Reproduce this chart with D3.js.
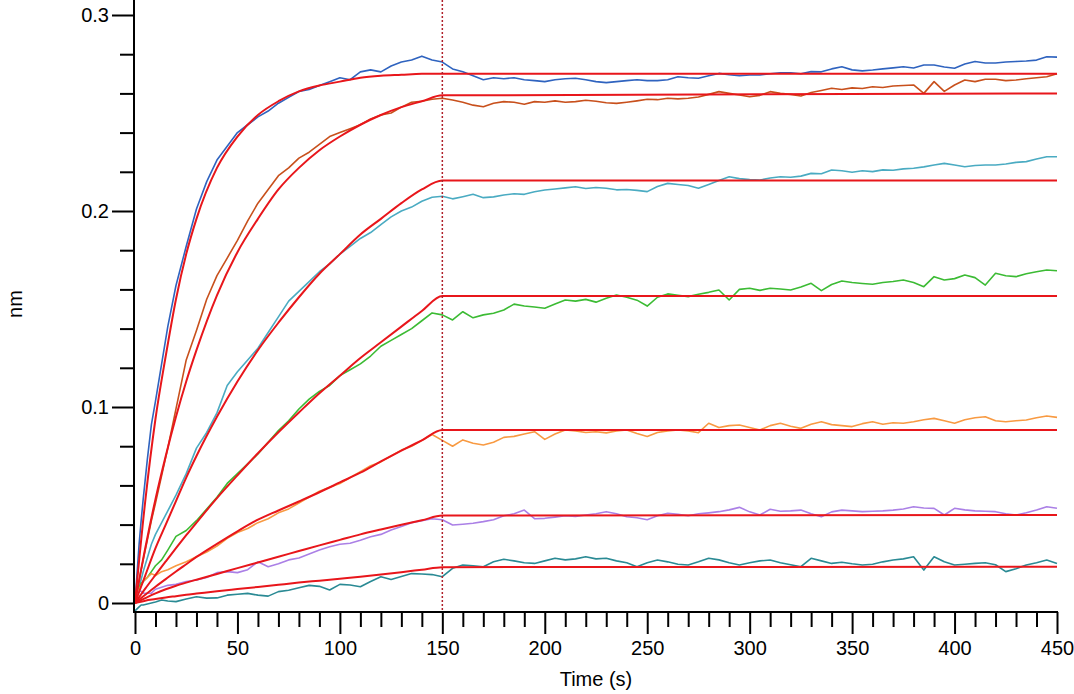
<!DOCTYPE html>
<meta charset="utf-8">
<style>
body { margin: 0; background: #fff; }
text { font-family: Arial, "Liberation Sans", sans-serif; }
</style>
<body>
<script src="https://d3js.org/d3.v7.min.js"></script>
<script>

var width = 1074,
    height = 694;

// sampling times of the measured traces (s)
var traceTimes = [0, 1, 2, 3, 4, 6, 8, 10, 13, 16, 20].concat(d3.range(25, 451, 5));

// measured traces (nm), highest concentration first
var traceBlue = [0, 0.015, 0.030, 0.042, 0.053, 0.073, 0.091, 0.103, 0.122, 0.141, 0.162,
  0.182, 0.201, 0.215, 0.226, 0.233, 0.240, 0.244, 0.248, 0.251, 0.255, 0.258, 0.261, 0.262, 0.264, 0.266, 0.268, 0.267, 0.271, 0.272, 0.271, 0.274, 0.276, 0.277, 0.279, 0.277, 0.276,
  0.2725, 0.271, 0.269, 0.267, 0.268, 0.2675, 0.268, 0.267, 0.2665, 0.266,
  0.267, 0.2675, 0.2677, 0.267, 0.266, 0.2655, 0.266, 0.2665, 0.267, 0.2665,
  0.2665, 0.267, 0.2685, 0.268, 0.2677, 0.269, 0.2702, 0.2695, 0.269, 0.2694,
  0.2694, 0.270, 0.2705, 0.2705, 0.270, 0.2711, 0.271, 0.2725, 0.2736, 0.272,
  0.2715, 0.2719, 0.2725, 0.273, 0.2736, 0.273, 0.2745, 0.2745, 0.2735, 0.2728,
  0.275, 0.2763, 0.2755, 0.2755, 0.276, 0.2763, 0.2765, 0.277, 0.2787, 0.2785];

var traceBrown = [0, 0.005, 0.011, 0.017, 0.022, 0.032, 0.042, 0.051, 0.065, 0.079, 0.099,
  0.124, 0.139, 0.155, 0.167, 0.176, 0.185, 0.195, 0.204, 0.211, 0.218, 0.222, 0.227, 0.230, 0.234, 0.238, 0.240, 0.242, 0.244, 0.247, 0.249, 0.250, 0.253, 0.2555, 0.256, 0.257, 0.2575,
  0.2566, 0.2555, 0.254, 0.2532, 0.255, 0.2558, 0.2555, 0.2545, 0.2558, 0.2555,
  0.2562, 0.2555, 0.2558, 0.2565, 0.256, 0.2552, 0.2549, 0.2555, 0.2562, 0.257,
  0.2568, 0.2575, 0.2572, 0.2575, 0.2582, 0.2595, 0.2609, 0.2600, 0.2592, 0.2583,
  0.2590, 0.2609, 0.2600, 0.2595, 0.2587, 0.2605, 0.2615, 0.2626, 0.262, 0.2628,
  0.2625, 0.2634, 0.263, 0.2638, 0.2640, 0.2643, 0.2600, 0.2660, 0.2610, 0.2643,
  0.2668, 0.2660, 0.2672, 0.2672, 0.2665, 0.2668, 0.2675, 0.268, 0.2685, 0.270];

var traceCyan = [0, 0.004, 0.008, 0.012, 0.016, 0.023, 0.030, 0.035, 0.041, 0.047, 0.055,
  0.066, 0.079, 0.087, 0.097, 0.111, 0.118, 0.124, 0.130, 0.138, 0.146, 0.154, 0.159, 0.164, 0.169, 0.173, 0.178, 0.182, 0.186, 0.189, 0.193, 0.197, 0.200, 0.202, 0.205, 0.207, 0.2075,
  0.2062, 0.2073, 0.2085, 0.2068, 0.2072, 0.2082, 0.2088, 0.2085, 0.2098, 0.2107,
  0.2112, 0.2118, 0.2124, 0.2115, 0.212, 0.2116, 0.2108, 0.211, 0.2105, 0.2099,
  0.2125, 0.2141, 0.2135, 0.213, 0.2116, 0.2135, 0.2155, 0.2175, 0.2165, 0.216,
  0.2158, 0.2168, 0.2175, 0.2172, 0.2178, 0.2192, 0.219, 0.2209, 0.2205, 0.2198,
  0.2205, 0.2201, 0.221, 0.2208, 0.2215, 0.2218, 0.2225, 0.2235, 0.2243, 0.2235,
  0.2226, 0.2232, 0.2235, 0.2235, 0.224, 0.2248, 0.2252, 0.2265, 0.2277, 0.2277];

var traceGreen = [0, 0.004, 0.008, 0.010, 0.011, 0.013, 0.016, 0.019, 0.022, 0.027, 0.034,
  0.037, 0.042, 0.048, 0.054, 0.061, 0.066, 0.071, 0.076, 0.082, 0.088, 0.093, 0.099, 0.104, 0.108, 0.111, 0.116, 0.119, 0.122, 0.126, 0.131, 0.134, 0.137, 0.140, 0.144, 0.148, 0.147,
  0.1444, 0.1486, 0.1455, 0.147, 0.1478, 0.1495, 0.1525, 0.1515, 0.151, 0.1504,
  0.1525, 0.1546, 0.154, 0.1549, 0.1535, 0.1555, 0.1571, 0.156, 0.1545, 0.1515,
  0.156, 0.1577, 0.157, 0.1563, 0.1575, 0.1585, 0.1597, 0.1546, 0.16, 0.1606,
  0.1595, 0.1606, 0.1602, 0.1597, 0.1612, 0.1631, 0.1594, 0.1625, 0.1643, 0.1635,
  0.163, 0.1626, 0.1635, 0.164, 0.1648, 0.1635, 0.1614, 0.1665, 0.1648, 0.1655,
  0.1673, 0.166, 0.1622, 0.1682, 0.167, 0.1665, 0.168, 0.169, 0.1699, 0.1695];

var traceOrange = [0, 0.004, 0.007, 0.009, 0.011, 0.013, 0.015, 0.014, 0.016, 0.017, 0.019,
  0.021, 0.0236, 0.026, 0.029, 0.033, 0.036, 0.038, 0.041, 0.043, 0.046, 0.048, 0.051, 0.054, 0.057, 0.059, 0.061, 0.064, 0.067, 0.070, 0.072, 0.075, 0.078, 0.080, 0.083, 0.086, 0.083,
  0.080, 0.0832, 0.0815, 0.0806, 0.082, 0.0845, 0.085, 0.0862, 0.0874, 0.0835,
  0.0862, 0.0883, 0.0878, 0.087, 0.0874, 0.0868, 0.0878, 0.0883, 0.0865, 0.085,
  0.087, 0.0878, 0.0883, 0.0878, 0.0869, 0.0917, 0.0895, 0.0905, 0.0908, 0.0895,
  0.0883, 0.0905, 0.0917, 0.0902, 0.0891, 0.0912, 0.0925, 0.091, 0.0905, 0.09,
  0.0915, 0.0925, 0.0912, 0.092, 0.0917, 0.0925, 0.0935, 0.0942, 0.093, 0.0917,
  0.0935, 0.0945, 0.095, 0.093, 0.0925, 0.093, 0.0934, 0.0945, 0.0954, 0.0947];

var tracePurple = [0, 0.004, 0.006, 0.006, 0.005, 0.005, 0.005, 0.007, 0.008, 0.009, 0.0095,
  0.011, 0.0117, 0.013, 0.0155, 0.016, 0.0155, 0.017, 0.021, 0.0185, 0.020, 0.022, 0.023, 0.025, 0.027, 0.0287, 0.030, 0.0305, 0.032, 0.0338, 0.035, 0.0372, 0.039, 0.041, 0.042, 0.043, 0.0425,
  0.0398, 0.0402, 0.0407, 0.0415, 0.0425, 0.0445, 0.0455, 0.0474, 0.043, 0.0432,
  0.0438, 0.0445, 0.0442, 0.0449, 0.0455, 0.0466, 0.0455, 0.044, 0.0435, 0.0425,
  0.0445, 0.0458, 0.0452, 0.0445, 0.0455, 0.046, 0.0466, 0.0475, 0.0488, 0.0465,
  0.0449, 0.0478, 0.0468, 0.047, 0.0474, 0.0455, 0.044, 0.0465, 0.0474, 0.047,
  0.0466, 0.0468, 0.047, 0.0474, 0.048, 0.0491, 0.0485, 0.0483, 0.0449, 0.0483,
  0.0475, 0.047, 0.0468, 0.0466, 0.0455, 0.0449, 0.046, 0.0474, 0.0491, 0.0483];

var traceTeal = [-0.004, -0.003, -0.002, -0.001, -0.001, -0.0005, 0.0, 0.0005, 0.0015, 0.001, 0.0007,
  0.002, 0.0032, 0.0025, 0.0026, 0.004, 0.0045, 0.0049, 0.004, 0.0035, 0.0058, 0.0065, 0.0078, 0.009, 0.0085, 0.0066, 0.0095, 0.0092, 0.0083, 0.011, 0.0134, 0.012, 0.0135, 0.015, 0.0148, 0.0145, 0.0134,
  0.0177, 0.0194, 0.019, 0.0185, 0.021, 0.0223, 0.0215, 0.0205, 0.0202, 0.0215,
  0.0228, 0.022, 0.0225, 0.0236, 0.0225, 0.0228, 0.0215, 0.0205, 0.0185, 0.0205,
  0.0219, 0.021, 0.0198, 0.0194, 0.021, 0.0228, 0.022, 0.0205, 0.0194, 0.0205,
  0.0215, 0.0219, 0.0205, 0.0195, 0.0185, 0.0228, 0.0215, 0.0202, 0.0208, 0.02,
  0.0194, 0.0198, 0.021, 0.0219, 0.0225, 0.0236, 0.0168, 0.0236, 0.021, 0.0194,
  0.0198, 0.0202, 0.0205, 0.0195, 0.016, 0.0175, 0.0194, 0.0205, 0.0219, 0.0202];

// fitted curves (association up to 150 s, flat afterwards)
var fitTimes = [0, 5, 10, 15, 20, 25, 30, 40, 50, 60, 70, 80, 90, 100, 110, 120, 130, 140, 150, 450];
var fitBlue   = [0, 0.052, 0.094, 0.126, 0.155, 0.178, 0.196, 0.222, 0.238, 0.249, 0.256, 0.261, 0.264, 0.266, 0.268, 0.269, 0.2695, 0.27, 0.270, 0.270];
var fitBrown  = [0, 0.028, 0.053, 0.075, 0.095, 0.113, 0.129, 0.157, 0.179, 0.196, 0.211, 0.222, 0.231, 0.238, 0.244, 0.249, 0.253, 0.256, 0.259, 0.260];
var fitCyan   = [0, 0.014, 0.028, 0.040, 0.052, 0.064, 0.075, 0.095, 0.113, 0.129, 0.143, 0.156, 0.168, 0.178, 0.188, 0.196, 0.204, 0.211, 0.2155, 0.2155];
var fitGreen  = [0, 0.0073, 0.0143, 0.0212, 0.028, 0.0346, 0.041, 0.0535, 0.0651, 0.0764, 0.0871, 0.0972, 0.107, 0.116, 0.125, 0.133, 0.141, 0.149, 0.1566, 0.1566];
var fitOrange = [0, 0.0042, 0.0083, 0.0122, 0.0161, 0.0198, 0.0235, 0.0302, 0.0366, 0.0425, 0.0472, 0.0518, 0.0565, 0.0615, 0.0665, 0.0722, 0.0777, 0.0830, 0.0883, 0.0883];
var fitPurple = [0, 0.0025, 0.0049, 0.0070, 0.0088, 0.0104, 0.0119, 0.0148, 0.0178, 0.0207, 0.0236, 0.0265, 0.0294, 0.0322, 0.0350, 0.0375, 0.0399, 0.0422, 0.0446, 0.0449];
var fitTeal   = [0, 0.0012, 0.0020, 0.0028, 0.0035, 0.0042, 0.0048, 0.0060, 0.0071, 0.0082, 0.0093, 0.0104, 0.0114, 0.0124, 0.0134, 0.0145, 0.0157, 0.0170, 0.0183, 0.0185];

var traces = [traceBlue, traceBrown, traceCyan, traceGreen, traceOrange, tracePurple, traceTeal];
var traceColors = ["#2f63bf", "#c8501c", "#4aabc2", "#3cbb34", "#f89a42", "#ab80e6", "#2a8a94"];
var fits = [fitBlue, fitBrown, fitCyan, fitGreen, fitOrange, fitPurple, fitTeal];

var xTicks = [0, 50, 100, 150, 200, 250, 300, 350, 400, 450];
var yTicks = [0, 0.1, 0.2, 0.3];
var switchTime = 150;

var x = d3.scaleLinear().domain([0, 450]).range([135, 1057]);
var y = d3.scaleLinear().domain([0, 0.3]).range([603, 15]);

var axisX = 134, axisY = 612;

var svg = d3.select("body").append("svg")
    .attr("width", width)
    .attr("height", height);

// traces
var line = d3.line()
    .x(function(d) { return x(d[0]); })
    .y(function(d) { return y(d[1]); });

svg.append("g").selectAll("path")
    .data(traces)
    .enter().append("path")
    .attr("d", function(vals) {
      return line(vals.map(function(v, i) { return [traceTimes[i], v]; }));
    })
    .attr("fill", "none")
    .attr("stroke", function(d, i) { return traceColors[i]; })
    .attr("stroke-width", 1.6)
    .attr("stroke-linejoin", "round");

// fits
var fitLine = d3.line()
    .curve(d3.curveMonotoneX)
    .x(function(d) { return x(d[0]); })
    .y(function(d) { return y(d[1]); });

svg.append("g").selectAll("path")
    .data(fits)
    .enter().append("path")
    .attr("d", function(vals) {
      return fitLine(vals.map(function(v, i) { return [fitTimes[i], v]; }));
    })
    .attr("fill", "none")
    .attr("stroke", "#e8161b")
    .attr("stroke-width", 2);

// association / dissociation boundary
svg.append("line")
    .attr("x1", x(switchTime)).attr("x2", x(switchTime))
    .attr("y1", 0).attr("y2", axisY)
    .attr("stroke", "#b0202a")
    .attr("stroke-width", 1.5)
    .attr("stroke-dasharray", "2,2");

// y axis
var yMinor = d3.range(0.02, 0.31, 0.02).filter(function(v) {
  return yTicks.every(function(t) { return Math.abs(t - v) > 1e-6; });
});

svg.append("g")
    .attr("transform", "translate(" + axisX + ",0)")
    .call(d3.axisLeft(y).tickValues(yMinor).tickSize(14).tickFormat(""))
    .call(function(g) { g.select(".domain").remove(); });

svg.append("g")
    .attr("transform", "translate(" + axisX + ",0)")
    .call(d3.axisLeft(y).tickValues(yTicks).tickSize(22).tickPadding(3)
      .tickFormat(function(d) { return d === 0 ? "0" : d3.format(".1f")(d); }))
    .call(function(g) { g.select(".domain").remove(); })
    .call(function(g) { g.selectAll("text").attr("font-size", 20).attr("fill", "#000"); });

// x axis
var xMinor = d3.range(10, 450, 10).filter(function(v) { return v % 50 !== 0; });

svg.append("g")
    .attr("transform", "translate(0," + axisY + ")")
    .call(d3.axisBottom(x).tickValues(xMinor).tickSize(15).tickFormat(""))
    .call(function(g) { g.select(".domain").remove(); });

svg.append("g")
    .attr("transform", "translate(0," + axisY + ")")
    .call(d3.axisBottom(x).tickValues(xTicks).tickSize(22).tickPadding(7).tickFormat(d3.format("d")))
    .call(function(g) { g.select(".domain").remove(); })
    .call(function(g) { g.selectAll("text").attr("font-size", 20).attr("fill", "#000"); });

svg.selectAll(".tick line").attr("stroke", "#000").attr("stroke-width", 2);

// axis lines
svg.append("line")
    .attr("x1", axisX).attr("x2", axisX)
    .attr("y1", 0).attr("y2", axisY + 1)
    .attr("stroke", "#000").attr("stroke-width", 2);
svg.append("line")
    .attr("x1", axisX).attr("x2", x(450) + 1)
    .attr("y1", axisY).attr("y2", axisY)
    .attr("stroke", "#000").attr("stroke-width", 2);

// axis titles
svg.append("text")
    .attr("x", 596).attr("y", 686)
    .attr("text-anchor", "middle")
    .attr("font-size", 20)
    .text("Time (s)");

svg.append("text")
    .attr("transform", "translate(22,304) rotate(-90)")
    .attr("text-anchor", "middle")
    .attr("font-size", 20)
    .text("nm");

</script>
</body>
